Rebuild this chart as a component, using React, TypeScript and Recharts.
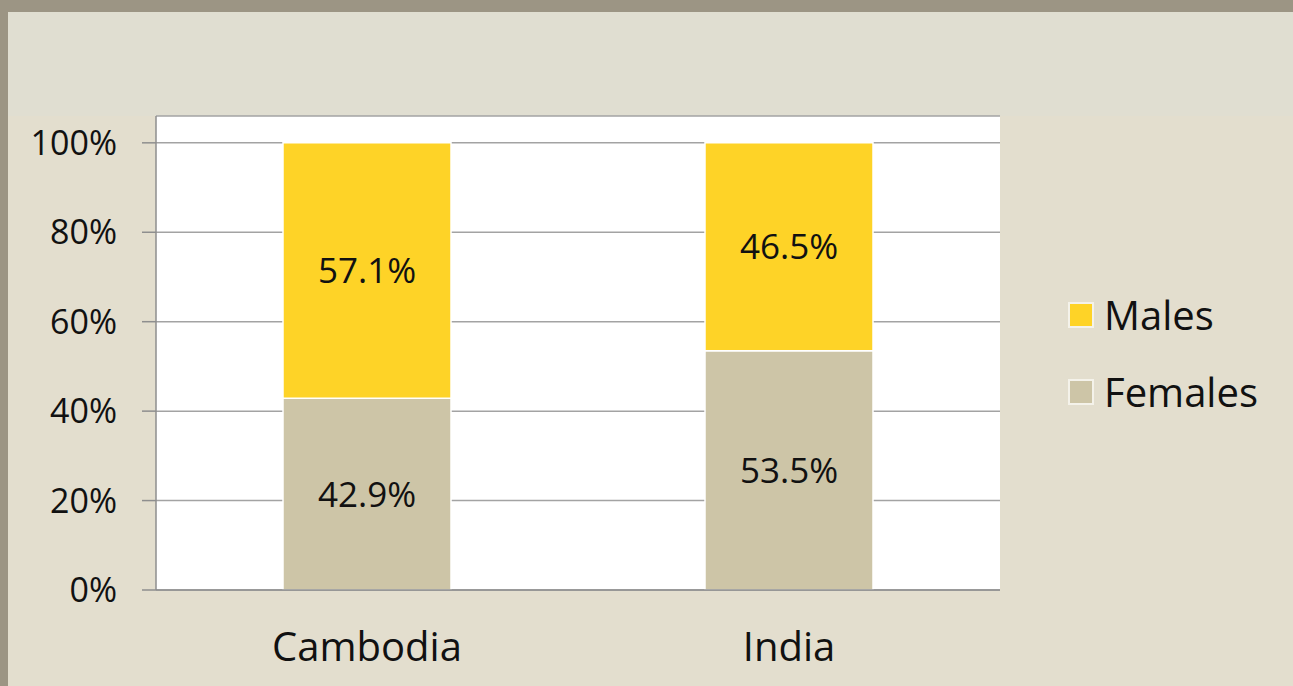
import React from 'react';
import { BarChart, Bar, XAxis, YAxis, CartesianGrid, LabelList, Legend } from 'recharts';

const categories = ['Cambodia', 'India'];
const femaleShare = [42.9, 53.5];
const maleShare = [57.1, 46.5];
const yTicks = [0, 20, 40, 60, 80, 100];
const edgeTicks = [0, 1, 2];

const data = categories.map((c, i) => ({ country: c, Females: femaleShare[i], Males: maleShare[i] }));

const FONT = '"Open Sans", "DejaVu Sans", sans-serif';
const MALE = '#FED327';
const FEMALE = '#CDC5A7';

const LegendContent = (props: any) => {
  const items = [...(props.payload || [])].reverse();
  return (
    <div style={{ fontFamily: FONT }}>
      {items.map((it: any) => (
        <div key={it.value} style={{ display: 'flex', alignItems: 'center', height: 77 }}>
          <div style={{ width: 22, height: 22, background: it.color, border: '2px solid #F4F2EA', marginRight: 10 }} />
          <span style={{ fontSize: 40, color: '#111', lineHeight: '40px' }}>{it.value}</span>
        </div>
      ))}
    </div>
  );
};

export default function App() {
  return (
    <div style={{ position: 'absolute', left: 0, top: 0, width: 1293, height: 686, background: '#9C9584', overflow: 'hidden' }}>
      <div style={{ position: 'absolute', left: 8, top: 12, width: 1285, height: 674, background: '#E0DED1' }} />
      <div style={{ position: 'absolute', left: 8, top: 116, width: 1285, height: 570, background: '#E3DECE' }} />
      <div style={{ position: 'absolute', left: 0, top: 0 }}>
        <BarChart width={1293} height={686} data={data} margin={{ top: 116, right: 293, left: 0, bottom: 0 }} barSize={168}>
          <CartesianGrid xAxisId="b" vertical={false} fill="#FFFFFF" stroke="#A3A3A3" strokeWidth={1.5} />
          <XAxis
            xAxisId="a"
            type="number"
            domain={[0, 2]}
            ticks={edgeTicks}
            interval={0}
            allowDataOverflow
            height={13}
            tick={false}
            tickSize={13}
            tickMargin={0}
            stroke="#8E8E8E"
            strokeWidth={1.5}
          />
          <XAxis
            xAxisId="b"
            dataKey="country"
            height={83}
            axisLine={false}
            tickLine={false}
            tickSize={0}
            tickMargin={30}
            tick={{ fontSize: 40, fill: '#111', fontFamily: FONT }}
          />
          <YAxis
            width={156}
            domain={[0, 106]}
            ticks={yTicks}
            allowDataOverflow
            tickFormatter={(v: number) => `${v}%`}
            tickSize={14}
            tickMargin={25}
            stroke="#8E8E8E"
            strokeWidth={1.5}
            tick={{ fontSize: 34, fill: '#111', fontFamily: FONT }}
          />
          <Legend
            layout="horizontal"
            verticalAlign="middle"
            align="center"
            content={<LegendContent />}
            wrapperStyle={{ left: 1068, top: 276, width: 225 }}
          />
          <Bar xAxisId="b" dataKey="Females" stackId="s" fill={FEMALE} stroke="#FFFFFF" strokeWidth={1.5} isAnimationActive={false}>
            <LabelList dataKey="Females" position="center" formatter={(v: any) => `${Number(v).toFixed(1)}%`} style={{ fontSize: 35, fill: '#111', fontFamily: FONT }} />
          </Bar>
          <Bar xAxisId="b" dataKey="Males" stackId="s" fill={MALE} stroke="#FFFFFF" strokeWidth={1.5} isAnimationActive={false}>
            <LabelList dataKey="Males" position="center" formatter={(v: any) => `${Number(v).toFixed(1)}%`} style={{ fontSize: 35, fill: '#111', fontFamily: FONT }} />
          </Bar>
        </BarChart>
      </div>
    </div>
  );
}
